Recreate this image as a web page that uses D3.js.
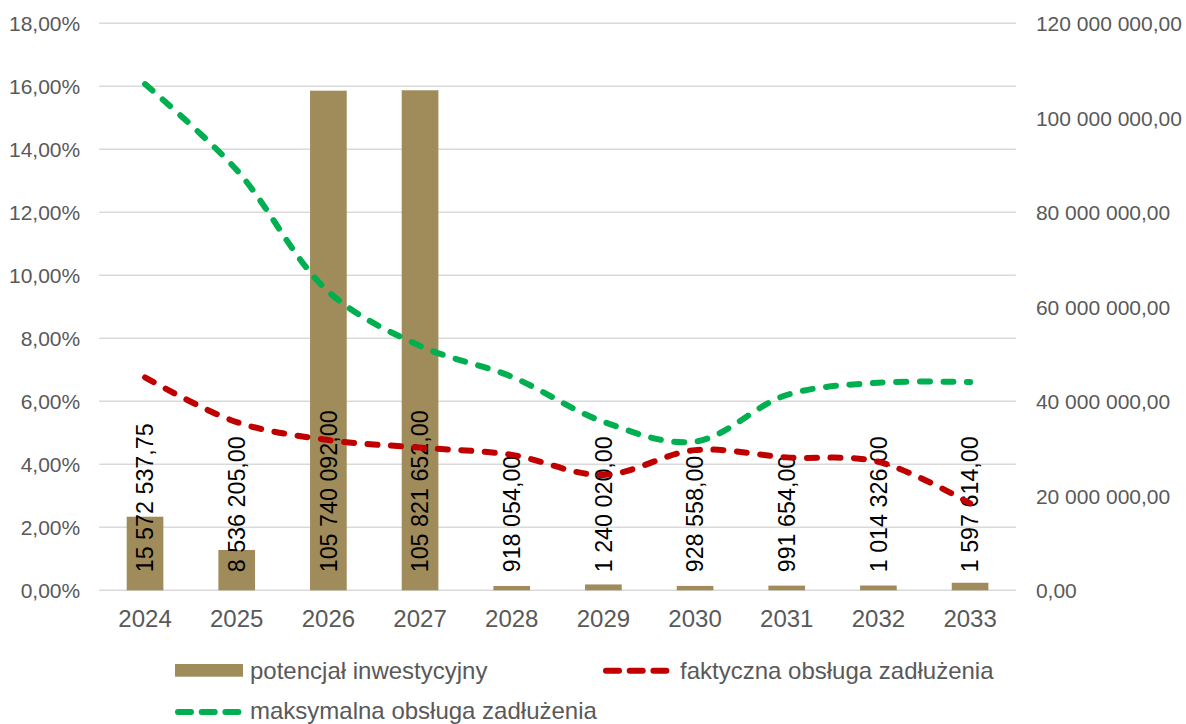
<!DOCTYPE html>
<html lang="pl">
<head>
<meta charset="utf-8">
<script src="https://cdn.jsdelivr.net/npm/d3@7"></script>
<style>
  html, body { margin: 0; padding: 0; background: #fff; }
  svg { display: block; font-family: "Liberation Sans", Arial, sans-serif; }
</style>
</head>
<body>
<svg id="chart" width="1186" height="724"></svg>
<script>
// Lata prognozy
const years = ["2024", "2025", "2026", "2027", "2028", "2029", "2030", "2031", "2032", "2033"];
// Potencjał inwestycyjny (zł) – oś prawa
const potencjal = [15572537.75, 8536205.00, 105740092.00, 105821652.00, 918054.00,
                   1240020.00, 928558.00, 991654.00, 1014326.00, 1597614.00];
// Faktyczna obsługa zadłużenia (%) – oś lewa
const faktyczna = [6.76, 5.34, 4.77, 4.53, 4.30, 3.66, 4.45, 4.22, 4.08, 2.76];
// Maksymalna obsługa zadłużenia (%) – oś lewa
const maksymalna = [16.07, 13.34, 9.48, 7.76, 6.78, 5.35, 4.72, 6.20, 6.59, 6.61];
// Podziałki osi
const leftTicks = [0, 2, 4, 6, 8, 10, 12, 14, 16, 18];
const rightTicks = [0, 20e6, 40e6, 60e6, 80e6, 100e6, 120e6];
// Opisy legendy
const seriesNames = ["potencjał inwestycyjny", "faktyczna obsługa zadłużenia", "maksymalna obsługa zadłużenia"];

const pl = d3.formatLocale({ decimal: ",", thousands: " ", grouping: [3], currency: ["", " zł"] });
const fmtPct = v => pl.format(".2f")(v) + "%";
const fmtNum = pl.format(",.2f");

const svg = d3.select("#chart");
const plot = { left: 99.2, right: 1015.9, top: 23.3, bottom: 590.3 };

const x = d3.scaleBand().domain(years).range([plot.left, plot.right]).paddingInner(0.6).paddingOuter(0.3);
const yL = d3.scaleLinear().domain([0, 18]).range([plot.bottom, plot.top]);
const yR = d3.scaleLinear().domain([0, 120e6]).range([plot.bottom, plot.top]);
const cx = d => x(d) + x.bandwidth() / 2;

const gray = "#595959";
const barColor = "#A08B5A";
const red = "#C00000";
const green = "#00B050";

// Linie siatki
svg.append("g").selectAll("line").data(leftTicks).join("line")
  .attr("x1", plot.left).attr("x2", plot.right)
  .attr("y1", d => yL(d)).attr("y2", d => yL(d))
  .attr("stroke", "#D9D9D9").attr("stroke-width", 1.5);

// Oś lewa
const axL = svg.append("g").attr("transform", `translate(${plot.left - 19},0)`)
  .call(d3.axisLeft(yL).tickValues(leftTicks).tickFormat(fmtPct).tickSize(0).tickPadding(0));
axL.select(".domain").remove();
axL.selectAll("text").attr("fill", gray).style("font-size", "21px")
  .style("font-family", '"Liberation Sans", Arial, sans-serif').attr("dy", "0.35em");

// Oś prawa
const axR = svg.append("g").attr("transform", `translate(${plot.right + 20},0)`)
  .call(d3.axisRight(yR).tickValues(rightTicks).tickFormat(fmtNum).tickSize(0).tickPadding(0));
axR.select(".domain").remove();
axR.selectAll("text").attr("fill", gray).style("font-size", "21px")
  .style("font-family", '"Liberation Sans", Arial, sans-serif').attr("dy", "0.35em");

// Oś kategorii
const axX = svg.append("g").attr("transform", `translate(0,${plot.bottom})`)
  .call(d3.axisBottom(x).tickSize(0).tickPadding(0));
axX.select(".domain").remove();
axX.selectAll("text").attr("fill", gray).style("font-size", "24px")
  .style("font-family", '"Liberation Sans", Arial, sans-serif').attr("dy", "36.5px");

// Słupki potencjału inwestycyjnego
svg.append("g").selectAll("rect").data(years).join("rect")
  .attr("x", d => x(d)).attr("width", x.bandwidth())
  .attr("y", (d, i) => yR(potencjal[i]))
  .attr("height", (d, i) => plot.bottom - yR(potencjal[i]))
  .attr("fill", barColor);

// Etykiety wartości (pionowe, u podstawy słupka)
svg.append("g").selectAll("text").data(years).join("text")
  .attr("transform", d => `translate(${cx(d)},${plot.bottom - 18}) rotate(-90)`)
  .attr("dy", "0.35em").attr("text-anchor", "start")
  .attr("fill", "#000").style("font-size", "23.3px")
  .text((d, i) => fmtNum(potencjal[i]));

// Linie wskaźników zadłużenia
const line = d3.line().curve(d3.curveCatmullRom.alpha(0.5))
  .x(d => cx(d[0])).y(d => yL(d[1]));

svg.append("path")
  .datum(years.map((y, i) => [y, faktyczna[i]]))
  .attr("d", line).attr("fill", "none").attr("stroke", red)
  .attr("stroke-width", 6).attr("stroke-linecap", "round").attr("stroke-dasharray", "10 13.5");

svg.append("path")
  .datum(years.map((y, i) => [y, maksymalna[i]]))
  .attr("d", line).attr("fill", "none").attr("stroke", green)
  .attr("stroke-width", 6).attr("stroke-linecap", "round").attr("stroke-dasharray", "10 13.5");

// Legenda
const lg = svg.append("g").style("font-size", "24px").attr("fill", gray);
lg.append("rect").attr("x", 175).attr("y", 664).attr("width", 68).attr("height", 12.7).attr("fill", barColor);
lg.append("text").attr("x", 250).attr("y", 679).text(seriesNames[0]);

lg.append("line").attr("x1", 606).attr("x2", 667).attr("y1", 670.7).attr("y2", 670.7)
  .attr("stroke", red).attr("stroke-width", 6).attr("stroke-linecap", "round").attr("stroke-dasharray", "13 10.7");
lg.append("text").attr("x", 680).attr("y", 679).text(seriesNames[1]);

lg.append("line").attr("x1", 178).attr("x2", 239).attr("y1", 712).attr("y2", 712)
  .attr("stroke", green).attr("stroke-width", 6).attr("stroke-linecap", "round").attr("stroke-dasharray", "13 10.7");
lg.append("text").attr("x", 250).attr("y", 718.5).text(seriesNames[2]);
</script>
</body>
</html>
